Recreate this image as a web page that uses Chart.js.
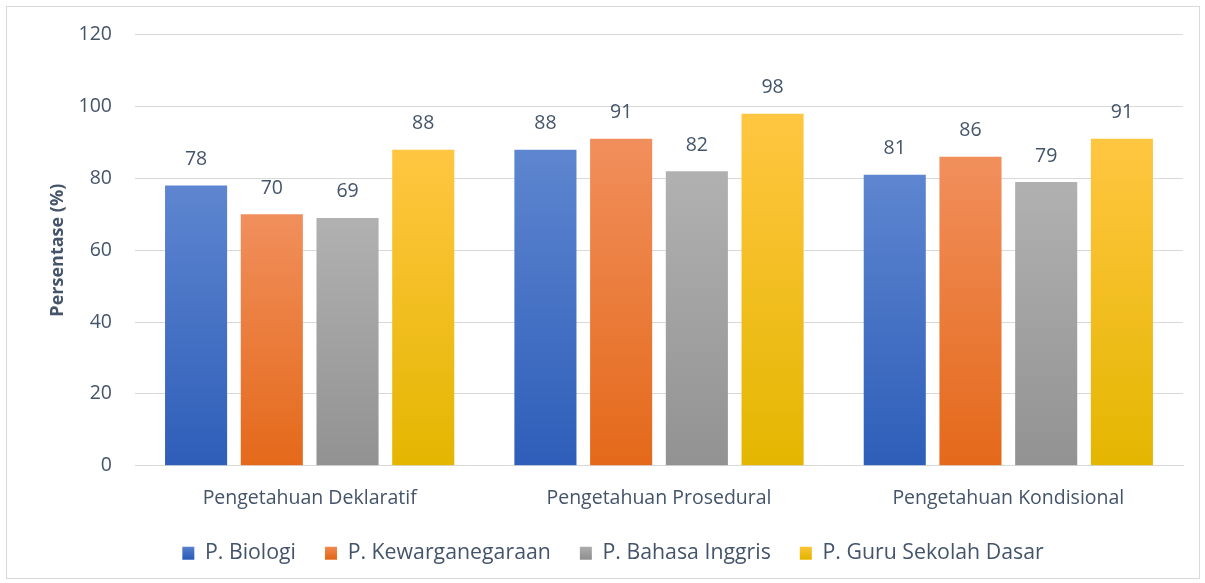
<!DOCTYPE html>
<html>
<head>
<meta charset="utf-8">
<script src="https://cdn.jsdelivr.net/npm/chart.js@4"></script>
<style>
  html, body { margin: 0; padding: 0; background: #fff; }
  #wrap { position: absolute; left: 6px; top: 6px; width: 1194px; height: 573px; border: 1px solid #D9D9D9; box-sizing: border-box; }
  #c { position: absolute; left: 0; top: 0; }
</style>
</head>
<body>
<div id="wrap"></div>
<canvas id="c" width="1205" height="583"></canvas>
<script>
var categories = ["Pengetahuan Deklaratif", "Pengetahuan Prosedural", "Pengetahuan Kondisional"];
var biologi = [78, 88, 81];
var kewarganegaraan = [70, 91, 86];
var bahasaInggris = [69, 82, 79];
var guruSD = [88, 98, 91];
var yTicks = [0, 20, 40, 60, 80, 100, 120];

var seriesNames = ["P. Biologi", "P. Kewarganegaraan", "P. Bahasa Inggris", "P. Guru Sekolah Dasar"];
var seriesData = [biologi, kewarganegaraan, bahasaInggris, guruSD];

// top, bottom colours of each bar gradient
var shades = [
    ["#5E86D0", "#2E5EB9"],
    ["#F18F5C", "#E4691A"],
    ["#B1B1B1", "#929292"],
    ["#FFC641", "#E4B600"]
];

var textColor = "#44546A";
var font = "'Open Sans', Calibri, sans-serif";
var fs = 19.5;

function barFill(i) {
    return function (ctx) {
        var chart = ctx.chart;
        var y = chart.scales.y;
        if (!y || ctx.parsed === undefined) return shades[i][0];
        var top = y.getPixelForValue(ctx.parsed.y);
        var bot = y.getPixelForValue(0);
        if (!isFinite(top) || !isFinite(bot) || top === bot) return shades[i][0];
        var g = chart.ctx.createLinearGradient(0, top, 0, bot);
        g.addColorStop(0, shades[i][0]);
        g.addColorStop(1, shades[i][1]);
        return g;
    };
}

function boxFill(chart, i) {
    var g = chart.ctx.createLinearGradient(0, 545, 0, 558);
    g.addColorStop(0, shades[i][0]);
    g.addColorStop(1, shades[i][1]);
    return g;
}

var valueLabels = {
    id: 'valueLabels',
    afterDatasetsDraw: function (chart) {
        var ctx = chart.ctx;
        ctx.save();
        ctx.fillStyle = textColor;
        ctx.font = fs + "px " + font;
        ctx.textAlign = "center";
        ctx.textBaseline = "middle";
        chart.data.datasets.forEach(function (ds, i) {
            chart.getDatasetMeta(i).data.forEach(function (bar, j) {
                ctx.fillText(ds.data[j], bar.x, bar.y - 26);
            });
        });
        ctx.restore();
    }
};

new Chart(document.getElementById("c"), {
    type: 'bar',
    data: {
        labels: categories,
        datasets: seriesData.map(function (d, i) {
            return {
                label: seriesNames[i],
                data: d,
                backgroundColor: barFill(i),
                categoryPercentage: 0.867,
                barPercentage: 0.82
            };
        })
    },
    options: {
        responsive: false,
        animation: false,
        layout: { padding: { left: 43, right: 22, top: 25, bottom: 9 } },
        plugins: {
            legend: {
                position: 'bottom',
                labels: {
                    color: textColor,
                    font: { family: font, size: 21.3 },
                    boxWidth: 12,
                    boxHeight: 13,
                    padding: 29,
                    generateLabels: function (chart) {
                        return chart.data.datasets.map(function (ds, i) {
                            return {
                                text: ds.label,
                                fillStyle: boxFill(chart, i),
                                strokeStyle: "rgba(0,0,0,0)",
                                lineWidth: 0,
                                datasetIndex: i,
                                fontColor: textColor
                            };
                        });
                    }
                }
            },
            tooltip: { enabled: false }
        },
        scales: {
            x: {
                grid: { display: false },
                border: { color: "#D9D9D9" },
                ticks: { color: textColor, font: { family: font, size: fs }, padding: 13 },
                afterFit: function (axis) { axis.height = 48; }
            },
            y: {
                min: 0,
                max: 120,
                afterBuildTicks: function (axis) {
                    axis.ticks = yTicks.map(function (v) { return { value: v }; });
                },
                grid: { color: "#D9D9D9", drawTicks: false },
                border: { display: false },
                ticks: { color: textColor, font: { family: font, size: fs }, padding: 23 },
                title: {
                    display: true,
                    text: "Persentase (%)",
                    color: textColor,
                    font: { family: font, size: 18, weight: 'bold' },
                    padding: { top: 4, bottom: 4 }
                },
                afterFit: function (axis) { axis.width = 92; }
            }
        }
    },
    plugins: [valueLabels]
});
</script>
</body>
</html>
